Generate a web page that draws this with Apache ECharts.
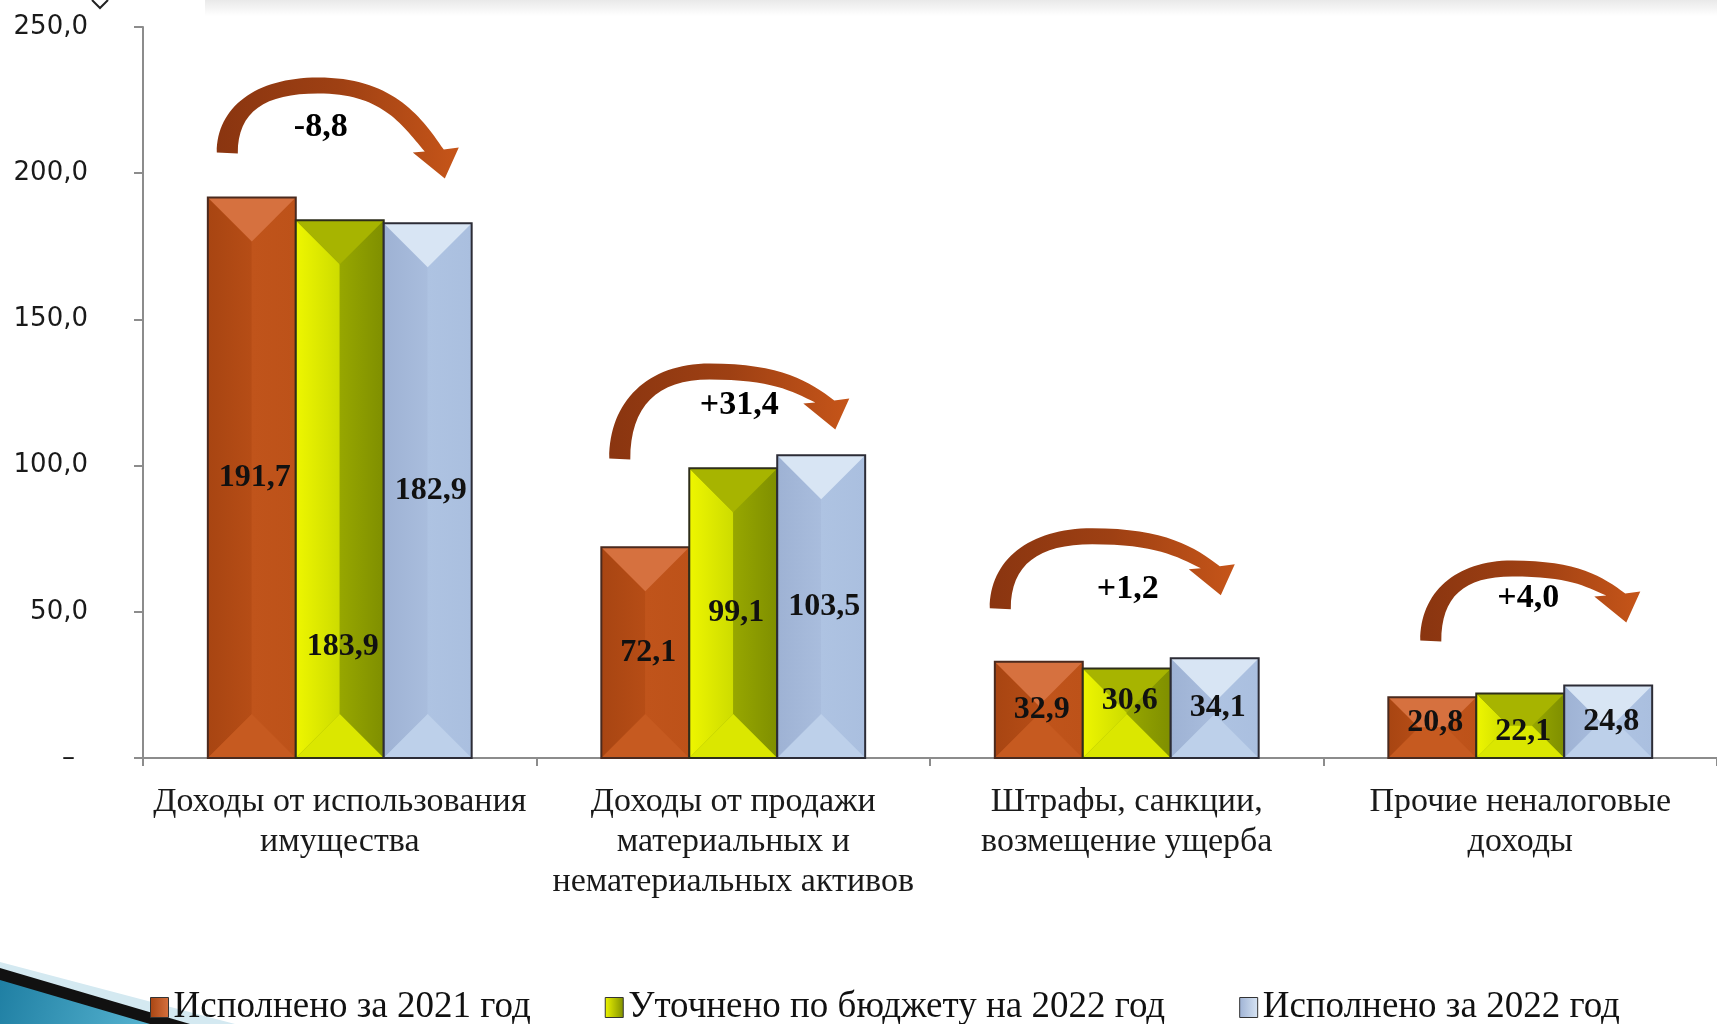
<!DOCTYPE html>
<html>
<head>
<meta charset="utf-8">
<script src="https://cdn.jsdelivr.net/npm/echarts@6/dist/echarts.min.js"></script>
<style>
  html, body { margin: 0; padding: 0; background: #fff; }
  #chart { width: 1717px; height: 1024px; }
</style>
</head>
<body>
<div id="chart"></div>
<script>
const categories = [
  "Доходы от использования\nимущества",
  "Доходы от продажи\nматериальных и\nнематериальных активов",
  "Штрафы, санкции,\nвозмещение ущерба",
  "Прочие неналоговые\nдоходы"
];
const seriesNames = [
  "Исполнено за 2021 год",
  "Уточнено по бюджету на 2022 год",
  "Исполнено за 2022 год"
];
const done2021 = [191.7, 72.1, 32.9, 20.8];
const plan2022 = [183.9, 99.1, 30.6, 22.1];
const done2022 = [182.9, 103.5, 34.1, 24.8];
const yMin = 0, yMax = 250, yStep = 50;

const allSeries = [done2021, plan2022, done2022];

// bevel colours for each series
const facets = [
  { top: "#d6713f", left: ["#a84512", "#b64d16"], right: ["#c0541b", "#bd5219"], bottom: "#c65a20", border: "#4a2a1e" },
  { top: "#a7b400", left: ["#eef600", "#cddc00"], right: ["#97a700", "#7f8f00"], bottom: "#dbe700", border: "#2e2e1a" },
  { top: "#d8e5f4", left: ["#9eb2d4", "#a9bddd"], right: ["#aec3e2", "#aabfdf"], bottom: "#bdd0ea", border: "#2c2c36" }
];
// small vertical nudges (px) of some value labels, "series-category"
const labelNudge = { "1-0": 158, "1-2": -13, "1-3": 6, "0-3": -5 };
// arrows: offset from category centre / top of highest bar, size, tip drop, text position
const arrowLayout = [
  { dx: -123, dy: -45, w: 241, h: 75, tip: 26, tx: 104, ty: -25 },
  { dx: -124, dy: 3, w: 239, h: 95, tip: -29, tx: 130, ty: -53 },
  { dx: -137, dy: -50, w: 244, h: 80, tip: -13, tx: 138, ty: -19 },
  { dx: -100, dy: -45, w: 219, h: 80, tip: -18, tx: 108, ty: -42 }
];

const fmt = (v) => v.toFixed(1).replace(".", ",");
const hGrad = (c) => ({ type: "linear", x: 0, y: 0, x2: 1, y2: 0, colorStops: [{ offset: 0, color: c[0] }, { offset: 1, color: c[1] }] });

function barRenderer(sIdx) {
  return function (params, api) {
    const ci = api.value(0), v = api.value(1);
    const p0 = api.coord([ci, 0]);
    const p1 = api.coord([ci, v]);
    const band = api.size([1, 0])[0];
    const w = band * 0.2235;
    const x0 = p0[0] - 1.5 * w + sIdx * w, x1 = x0 + w;
    const yb = p0[1], yt = p1[1];
    const h = yb - yt;
    const d = Math.min(w / 2, h / 2);
    const xm = (x0 + x1) / 2;
    const f = facets[sIdx];
    const nudge = labelNudge[sIdx + "-" + ci] || 0;
    return {
      type: "group",
      children: [
        { type: "rect", shape: { x: x0, y: yt, width: w, height: h }, style: { fill: f.right[0] } },
        { type: "polygon", shape: { points: [[x0, yt], [x0 + d, yt + d], [x0 + d, yb - d], [x0, yb]] }, style: { fill: hGrad(f.left) } },
        { type: "polygon", shape: { points: [[x1, yt], [x1 - d, yt + d], [x1 - d, yb - d], [x1, yb]] }, style: { fill: hGrad(f.right) } },
        { type: "polygon", shape: { points: [[x0, yt], [x1, yt], [x1 - d, yt + d], [x0 + d, yt + d]] }, style: { fill: f.top } },
        { type: "polygon", shape: { points: [[x0, yb], [x1, yb], [x1 - d, yb - d], [x0 + d, yb - d]] }, style: { fill: f.bottom } },
        { type: "rect", shape: { x: x0, y: yt, width: w, height: h }, style: { fill: null, stroke: f.border, lineWidth: 2 } },
        {
          type: "text", x: xm + 3, y: (yt + yb) / 2 + nudge,
          style: { text: fmt(v), font: 'bold 32px "Liberation Serif"', fill: "#111", align: "center", verticalAlign: "middle" }
        }
      ]
    };
  };
}

// curved arrow, origin = outer bottom of its tail
function arrowPath(ox, oy, W, H, t) {
  const P = (x, y) => `${(ox + x).toFixed(1)} ${(oy + y).toFixed(1)}`;
  const B = [0.42 * W, -H], C = [W - 14, t - 29], D = [W + 1, t - 31], E = [W - 13, t];
  const F = [W - 45, t - 26], G = [W - 33, t - 27], Hi = [0.42 * W, -H + 16], I = [21, 1];
  return [
    "M", P(0, 0),
    "C", P(0, -0.6 * H), P(0.16 * W, -H), P(B[0], B[1]),
    "C", P(0.72 * W, -H), P(C[0] - 0.1 * W, C[1] - 0.5 * (C[1] + H)), P(C[0], C[1]),
    "L", P(D[0], D[1]), "L", P(E[0], E[1]), "L", P(F[0], F[1]), "L", P(G[0], G[1]),
    "C", P(G[0] - 0.1 * W, G[1] - 0.5 * (G[1] - Hi[1])), P(0.68 * W, Hi[1]), P(Hi[0], Hi[1]),
    "C", P(0.2 * W, Hi[1]), P(I[0], -0.55 * H), P(I[0], I[1]),
    "Z"
  ].join(" ");
}

function arrowRenderer(params, api) {
  const ci = api.value(0), top = api.value(1), diff = api.value(2);
  const a = arrowLayout[ci];
  const p = api.coord([ci, top]);
  const ox = p[0] + a.dx, oy = p[1] + a.dy;
  return {
    type: "group",
    children: [
      {
        type: "path",
        shape: { pathData: arrowPath(ox, oy, a.w, a.h, a.tip) },
        style: {
          fill: { type: "linear", x: 0, y: 0, x2: 1, y2: 0, colorStops: [{ offset: 0, color: "#8a3510" }, { offset: 0.5, color: "#9e4013" }, { offset: 1, color: "#c65519" }] }
        }
      },
      {
        type: "text", x: ox + a.tx, y: oy + a.ty,
        style: {
          text: (diff >= 0 ? "+" : "") + fmt(diff),
          font: 'bold 34px "Liberation Serif"', fill: "#000", align: "center", verticalAlign: "middle"
        }
      }
    ]
  };
}

const legendIcon = [
  ["#a84512", "#d6713f"],
  ["#eef600", "#7f8f00"],
  ["#9eb2d4", "#d8e5f4"]
];

const arrowData = categories.map((c, i) => [
  i,
  Math.max(done2021[i], plan2022[i], done2022[i]),
  Math.round((done2022[i] - done2021[i]) * 10) / 10
]);

const chart = echarts.init(document.getElementById("chart"));
chart.setOption({
  animation: false,
  backgroundColor: "#fff",
  grid: { left: 143, right: 0, top: 27, bottom: 266 },
  legend: {
    left: 145, top: 984,
    itemWidth: 18, itemHeight: 20, itemGap: 74,
    icon: "rect",
    textStyle: { fontFamily: "Liberation Serif", fontSize: 37, color: "#111" },
    data: seriesNames.map((n, i) => ({
      name: n,
      itemStyle: { color: hGrad(legendIcon[i]), borderColor: "#333", borderWidth: 1 }
    }))
  },
  xAxis: {
    type: "category",
    data: categories,
    axisLine: { lineStyle: { color: "#8c8c8c", width: 2 } },
    axisTick: { show: true, length: 8, alignWithLabel: false, lineStyle: { color: "#8c8c8c", width: 2 } },
    axisLabel: {
      interval: 0, margin: 24,
      fontFamily: "Liberation Serif", fontSize: 34, lineHeight: 40, color: "#1a1a1a"
    },
    splitLine: { show: false }
  },
  yAxis: {
    type: "value",
    min: yMin, max: yMax, interval: yStep,
    axisLine: { show: true, lineStyle: { color: "#8c8c8c", width: 2 } },
    axisTick: { show: true, length: 9, lineStyle: { color: "#8c8c8c", width: 2 } },
    splitLine: { show: false },
    axisLabel: {
      margin: 55,
      fontFamily: "DejaVu Sans", fontSize: 26, color: "#1a1a1a",
      padding: [0, 0, 6, 0],
      formatter: (v) => (v === 0 ? "–\u2002" : fmt(v))
    }
  },
  graphic: [
    {
      type: "rect", shape: { x: 205, y: 0, width: 1512, height: 16 }, silent: true,
      style: { fill: { type: "linear", x: 0, y: 0, x2: 0, y2: 1, colorStops: [{ offset: 0, color: "#e9e9e9" }, { offset: 1, color: "#ffffff" }] } }
    },
    { type: "polyline", shape: { points: [[92, 0], [100, 8], [108, 0]] }, style: { stroke: "#222", lineWidth: 2, fill: null } },
    { type: "polygon", shape: { points: [[0, 962], [235, 1024], [0, 1024]] }, style: { fill: "#d4e9f1" } },
    { type: "polygon", shape: { points: [[0, 968], [190, 1024], [0, 1024]] }, style: { fill: "#111" } },
    {
      type: "polygon", shape: { points: [[0, 980], [150, 1024], [0, 1024]] },
      style: { fill: { type: "linear", x: 0, y: 0, x2: 1, y2: 1, colorStops: [{ offset: 0, color: "#1f7fa3" }, { offset: 1, color: "#56b3d0" }] } }
    }
  ],
  series: allSeries.map((vals, s) => ({
    name: seriesNames[s],
    type: "custom",
    renderItem: barRenderer(s),
    encode: { x: 0, y: 1 },
    itemStyle: { color: legendIcon[s][0] },
    data: vals.map((v, i) => [i, v])
  })).concat([{
    name: "change",
    type: "custom",
    renderItem: arrowRenderer,
    encode: { x: 0, y: 1 },
    silent: true,
    data: arrowData
  }])
});
</script>
</body>
</html>
